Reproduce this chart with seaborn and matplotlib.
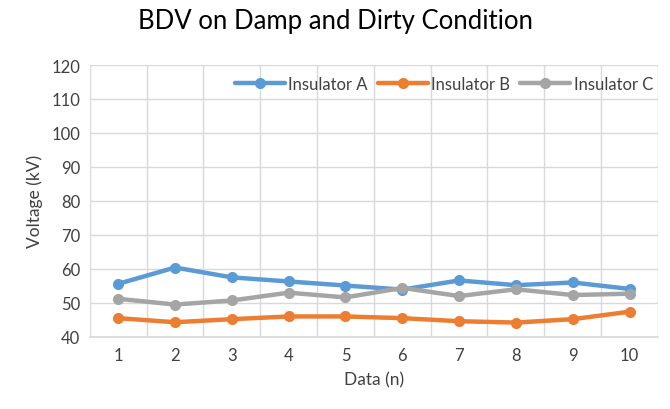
import matplotlib
matplotlib.use("Agg")
import matplotlib.pyplot as plt
import seaborn as sns
import pandas as pd
import numpy as np

data_n = [1, 2, 3, 4, 5, 6, 7, 8, 9, 10]
insulator_a = [55.6, 60.4, 57.5, 56.3, 55.1, 53.9, 56.6, 55.2, 56.0, 54.1]
insulator_b = [45.5, 44.3, 45.2, 46.0, 46.0, 45.5, 44.6, 44.2, 45.2, 47.4]
insulator_c = [51.2, 49.5, 50.7, 53.0, 51.6, 54.4, 52.0, 54.0, 52.3, 52.7]
series_names = ["Insulator A", "Insulator B", "Insulator C"]
colors = ["#5B9BD5", "#ED7D31", "#A5A5A5"]

df = pd.DataFrame({"n": data_n * 3,
                   "v": insulator_a + insulator_b + insulator_c,
                   "s": [series_names[0]] * 10 + [series_names[1]] * 10 + [series_names[2]] * 10})

sns.set_theme(style="white")
plt.rcParams['font.family'] = ['Lato', 'DejaVu Sans']
txt = "#404040"

fig = plt.figure(figsize=(6.7, 4.1), dpi=100)
ax = fig.add_axes([0.134, 0.176, 0.848, 0.663])

sns.lineplot(data=df, x="n", y="v", hue="s", palette=colors, marker="o",
             markersize=8, linewidth=3.2, markeredgewidth=0, ax=ax, zorder=3)

ax.set_xlim(0.5, 10.5)
ax.set_ylim(40, 120)
ax.set_yticks(np.arange(40, 121, 10))
ax.set_xticks(data_n)
ax.set_xticks(np.arange(0.5, 10.6, 1), minor=True)
ax.grid(False)
ax.grid(True, which="minor", axis="x", color="#D9D9D9", linewidth=1)
ax.grid(True, which="major", axis="y", color="#D9D9D9", linewidth=1)
ax.tick_params(axis="both", which="both", length=0, labelsize=12, colors=txt, pad=7)
for sp in ["top", "right", "left"]:
    ax.spines[sp].set_visible(False)
ax.spines["bottom"].set_color("#D9D9D9")

ax.set_xlabel("Data (n)", fontsize=12.5, color=txt, labelpad=6)
ax.set_ylabel("Voltage (kV)", fontsize=12.5, color=txt, labelpad=6)
fig.suptitle("BDV on Damp and Dirty Condition", fontsize=18.5, color="#000000", y=0.977)

leg = ax.legend(loc="upper right", ncol=3, frameon=False, fontsize=12,
                handlelength=3.0, columnspacing=0.6, handletextpad=0.2,
                bbox_to_anchor=(1.01, 1.0), borderaxespad=0.25)
for t in leg.get_texts():
    t.set_color(txt)

fig.savefig("out.png", dpi=100, facecolor="white")
